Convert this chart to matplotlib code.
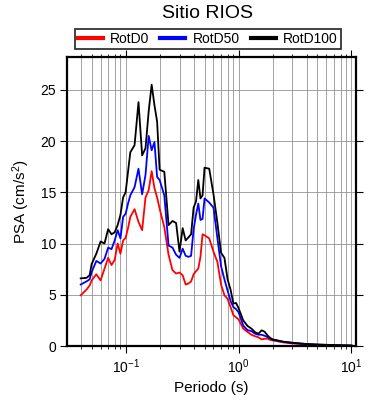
import matplotlib
matplotlib.use("Agg")
import matplotlib.pyplot as plt
from matplotlib.ticker import LogLocator, FixedLocator, NullFormatter

plt.rcParams['font.family'] = ['Liberation Sans', 'DejaVu Sans']
plt.rcParams['mathtext.fontset'] = 'custom'
plt.rcParams['mathtext.rm'] = 'Liberation Sans'
plt.rcParams['mathtext.it'] = 'Liberation Sans'

periods = [0.04, 0.045, 0.048, 0.05, 0.055, 0.06, 0.065, 0.07, 0.075, 0.08, 0.085, 0.09, 0.095,
           0.10, 0.105, 0.11, 0.12, 0.13, 0.14, 0.15, 0.16, 0.17, 0.18, 0.19, 0.20, 0.22, 0.24,
           0.26, 0.28, 0.30, 0.32, 0.34, 0.36, 0.38, 0.40, 0.42, 0.44, 0.46, 0.48, 0.50, 0.55,
           0.60, 0.65, 0.70, 0.75, 0.80, 0.85, 0.90, 0.95, 1.0, 1.1, 1.2, 1.3, 1.4, 1.5, 1.6,
           1.7, 1.8, 1.9, 2.0, 2.5, 3.0, 4.0, 5.0, 6.0, 7.5, 10.0]

rotd100 = [6.6, 6.65, 6.9, 8.0, 9.0, 10.2, 10.0, 11.4, 10.9, 11.1, 11.8, 12.8, 14.5,
           15.0, 17.0, 18.9, 19.6, 23.8, 18.6, 19.3, 22.9, 25.5, 23.5, 21.9, 17.2, 17.0, 11.8,
           12.2, 12.0, 9.2, 11.5, 10.3, 10.6, 10.9, 13.5, 14.1, 16.2, 14.4, 14.7, 17.4, 17.3,
           14.8, 12.0, 9.1, 8.6, 6.5, 5.5, 4.14, 4.2, 3.7, 2.5, 1.96, 1.7, 1.35, 1.2, 1.53,
           1.4, 1.05, 0.8, 0.65, 0.42, 0.32, 0.2, 0.15, 0.12, 0.08, 0.05]

rotd50 = [6.0, 6.3, 6.5, 7.2, 8.3, 8.05, 8.5, 9.6, 9.45, 10.3, 11.3, 10.5, 12.6,
          12.9, 13.9, 14.7, 15.5, 17.3, 14.8, 16.7, 20.5, 19.1, 19.9, 16.5, 16.2, 14.7, 9.8,
          9.6, 8.9, 8.6, 9.5, 8.8, 8.7, 8.8, 11.4, 12.8, 13.9, 12.3, 12.4, 14.4, 14.0,
          13.5, 10.5, 7.8, 6.5, 5.4, 4.4, 3.8, 3.6, 3.3, 2.0, 1.55, 1.45, 1.2, 1.1, 1.1,
          1.0, 0.88, 0.75, 0.62, 0.4, 0.3, 0.18, 0.13, 0.1, 0.07, 0.04]

rotd0 = [4.95, 5.5, 5.9, 6.4, 7.0, 6.4, 7.55, 8.6, 7.9, 8.4, 10.0, 9.0, 10.3,
         10.55, 11.5, 12.6, 13.35, 12.1, 11.3, 14.5, 15.2, 17.06, 15.4, 14.5, 13.4, 11.6, 8.9,
         7.4, 7.07, 7.17, 6.9, 6.0, 6.1, 6.3, 7.0, 7.3, 7.55, 8.7, 10.9, 10.8, 10.5,
         9.2, 8.2, 6.0, 4.95, 4.6, 3.8, 3.0, 2.8, 2.6, 1.7, 1.37, 1.1, 0.95, 0.85, 0.65,
         0.7, 0.72, 0.6, 0.55, 0.35, 0.25, 0.15, 0.1, 0.08, 0.05, 0.03]

series = [("RotD0", rotd0, "#ff0000"), ("RotD50", rotd50, "#0000ff"), ("RotD100", rotd100, "#000000")]
y_ticks = [0, 5, 10, 15, 20, 25]

fig = plt.figure(figsize=(3.9, 4.0), dpi=100)
ax = fig.add_axes([0.172, 0.135, 0.74, 0.7225])

for name, vals, col in series:
    ax.plot(periods, vals, color=col, lw=1.3, label=name)

ax.set_xscale('log')
ax.set_xlim(0.0303, 10.9)
ax.set_ylim(0, 28.2)
ax.xaxis.set_major_locator(LogLocator(base=10, numticks=10))
ax.xaxis.set_minor_locator(LogLocator(base=10, subs=range(2, 10), numticks=20))
ax.xaxis.set_minor_formatter(NullFormatter())
ax.yaxis.set_major_locator(FixedLocator(y_ticks))

ax.grid(True, which='major', color='#8a8a8a', lw=0.55)
ax.grid(True, which='minor', axis='x', color='#8a8a8a', lw=0.55)
ax.set_axisbelow(True)

ax.tick_params(which='major', direction='out', length=5, width=0.8, top=True, right=True, labelsize=10, pad=3)
ax.tick_params(which='minor', direction='out', length=2.5, width=0.6, top=True, right=False)
for s in ax.spines.values():
    s.set_linewidth(1.6)

ax.set_xlabel('Periodo (s)', fontsize=11, labelpad=4)
ax.set_ylabel('PSA (cm/s$^2$)', fontsize=11, labelpad=6)
fig.text(0.5325, 0.965, 'Sitio RIOS', ha='center', va='center', fontsize=14)

leg = fig.legend(loc='center', bbox_to_anchor=(0.5325, 0.9025), ncol=3, frameon=True, fontsize=10,
                 handlelength=1.8, handletextpad=0.5, columnspacing=0.8, borderpad=0.25,
                 borderaxespad=0.0, fancybox=False, edgecolor='black')
leg.get_frame().set_linewidth(1.3)
for l in leg.get_lines():
    l.set_linewidth(3)

fig.savefig('out.png', dpi=100)
